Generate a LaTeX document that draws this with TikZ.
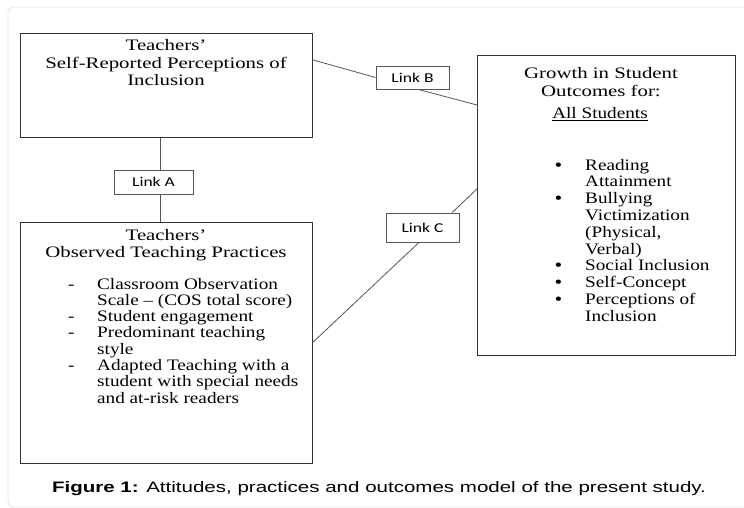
\documentclass[tikz,border=0pt]{standalone}
\usepackage{fontspec}
\setmainfont{Liberation Serif}
\newfontfamily\titlef{Liberation Serif}[FakeStretch=1.3]
\newfontfamily\itemf{Liberation Serif}[FakeStretch=1.2]
\newfontfamily\linkf{Carlito}[FakeStretch=1.3]
\newfontfamily\capf{Liberation Sans}[FakeStretch=1.35]
\definecolor{boxcol}{HTML}{333333}
\definecolor{conncol}{HTML}{555555}
\definecolor{framecol}{HTML}{E6E6E6}
\newcommand{\bigbul}{\makebox[30pt][l]{\textbf{\textbullet}}}
\begin{document}
\begin{tikzpicture}[x=1pt,y=-1pt,
  box/.style={draw=boxcol, line width=1.2pt, inner sep=0pt, anchor=north west},
  linkbox/.style={draw=conncol, line width=0.8pt, fill=white, inner sep=0pt,
    font=\linkf\fontsize{13.5}{14}\selectfont},
  conn/.style={draw=conncol, line width=0.8pt},
  ttl/.style={inner sep=0pt, anchor=base, font=\titlef\fontsize{16}{17.3}\selectfont},
  lst/.style={inner sep=0pt, anchor=base west, font=\itemf\fontsize{16}{16.3}\selectfont},
]
\useasboundingbox (0,0) rectangle (744,508);
\fill[white] (0,0) rectangle (744,508);
\draw[framecol, line width=0.8pt, rounded corners=6pt] (8,7) rectangle (800,507);

% boxes
\node[box, minimum width=292pt, minimum height=104pt] (self) at (20,33) {};
\node[box, minimum width=292pt, minimum height=241pt] (obs) at (20,222) {};
\node[box, minimum width=258pt, minimum height=300pt] (grow) at (477,55) {};

% box texts
\node[ttl] (selft) at (166,51) {\begin{tabular}[t]{@{}c@{}}Teachers’\\Self-Reported Perceptions of\\Inclusion\end{tabular}};
\node[ttl] (obst) at (166,240) {\begin{tabular}[t]{@{}c@{}}Teachers’\\Observed Teaching Practices\end{tabular}};
\node[lst] (obsl) at (68,289) {\begin{tabular}[t]{@{}l@{}l@{}}
\makebox[29pt][l]{-} & Classroom Observation\\
 & Scale – (COS total score)\\
\makebox[29pt][l]{-} & Student engagement\\
\makebox[29pt][l]{-} & Predominant teaching\\
 & style\\
\makebox[29pt][l]{-} & Adapted Teaching with a\\
 & student with special needs\\
 & and at-risk readers
\end{tabular}};
\node[ttl] (growt) at (601,79) {\begin{tabular}[t]{@{}c@{}}Growth in Student\\Outcomes for:\end{tabular}};
\node[ttl, font=\itemf\fontsize{16}{17}\selectfont] (alls) at (600,119) {\underline{All Students}};
\node[lst, font=\itemf\fontsize{16}{16.8}\selectfont] (growl) at (555,170) {\begin{tabular}[t]{@{}l@{}l@{}}
\bigbul & Reading\\
 & Attainment\\
\bigbul & Bullying\\
 & Victimization\\
 & (Physical,\\
 & Verbal)\\
\bigbul & Social Inclusion\\
\bigbul & Self-Concept\\
\bigbul & Perceptions of\\
 & Inclusion
\end{tabular}};

% link boxes
\node[linkbox, minimum width=79pt, minimum height=24pt] (linkA) at (153.5,182) {Link A};
\node[linkbox, minimum width=73pt, minimum height=23pt] (linkB) at (412.5,77.5) {Link B};
\node[linkbox, minimum width=73pt, minimum height=29pt] (linkC) at (422.5,227.5) {Link C};

% connectors
\coordinate (ax) at (160,0);
\draw[conn] (self.south -| ax) -- (linkA.north -| ax);
\draw[conn] (linkA.south -| ax) -- (obs.north -| ax);
\draw[conn] ([yshift=-27pt]self.north east) -- (linkB.west);
\draw[conn] ([xshift=5.5pt]linkB.south) -- ([yshift=-50pt]grow.north west);
\draw[conn] ([yshift=-120pt]obs.north east) -- ([xshift=-3.5pt]linkC.south);
\draw[conn] ([xshift=29.5pt]linkC.north) -- ([yshift=-134pt]grow.north west);

% caption
\node[inner sep=0pt, anchor=base, font=\capf\fontsize{15.2}{16}\selectfont] (cap) at (379,492)
  {\textbf{Figure 1:} Attitudes, practices and outcomes model of the present study.};
\end{tikzpicture}
\end{document}
